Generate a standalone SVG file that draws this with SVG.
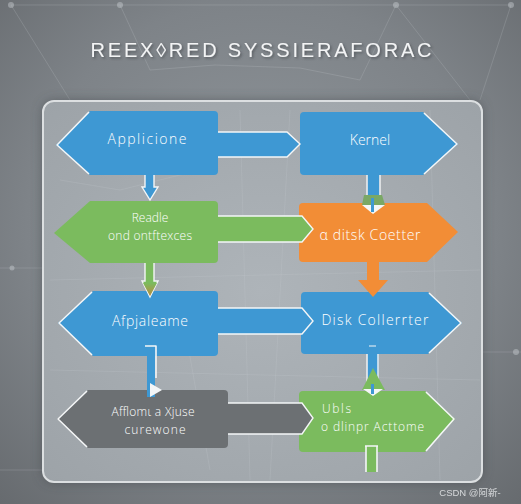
<svg xmlns="http://www.w3.org/2000/svg" width="521" height="504" viewBox="0 0 521 504">
<defs>
<radialGradient id="bg" cx="0.5" cy="0.45" r="0.75">
<stop offset="0" stop-color="#90969b"/>
<stop offset="0.6" stop-color="#7e8388"/>
<stop offset="1" stop-color="#666a6e"/>
</radialGradient>
<radialGradient id="pn" cx="0.5" cy="0.5" r="0.7">
<stop offset="0" stop-color="#aeb4b9"/>
<stop offset="1" stop-color="#9da3a8"/>
</radialGradient>
<filter id="sh" x="-10%" y="-10%" width="120%" height="120%">
<feGaussianBlur stdDeviation="6"/>
</filter>
<filter id="tsh" x="-5%" y="-30%" width="110%" height="160%">
<feDropShadow dx="1.5" dy="1.5" stdDeviation="0.8" flood-color="#3c4044" flood-opacity="0.6"/>
</filter>
<linearGradient id="gtip" x1="0" y1="0" x2="0" y2="1">
<stop offset="0" stop-color="#7bbb5e"/>
<stop offset="1" stop-color="#b98a3e"/>
</linearGradient>
</defs>
<style>
.t{font-family:"Open Sans","Liberation Sans",sans-serif;font-weight:300;fill:#ffffff;font-size:14px}
.t2{font-family:"Open Sans","Liberation Sans",sans-serif;font-weight:300;fill:#ffffff;font-size:12px}
.ol{fill:none;stroke:#f4f6f7;stroke-width:1.6;stroke-linejoin:round}
.blue{fill:#3e98d3}
.green{fill:#7bbb5e}
.orange{fill:#f28d36}
.gray{fill:#6c7073}
.cb{stroke:#f4f6f7;stroke-width:1.4;stroke-linejoin:miter}
.deco{stroke:#c9ced2;stroke-width:0.8;fill:none;opacity:0.25}
</style>
<rect width="521" height="504" fill="url(#bg)"/>
<g class="deco">
<path d="M11,5 L120,5 L396,5 L511,5"/>
<path d="M11,5 L70,100 M120,5 L150,70 L215,65 L300,68 L360,80 L396,5 M396,5 L470,100 M511,5 L480,100"/>
<path d="M0,268 L43,268 M482,352 L521,352 M0,470 L43,470"/>
</g>
<g fill="#c9ced2" opacity="0.45">
<circle cx="11" cy="5" r="3"/><circle cx="120" cy="5" r="3"/><circle cx="396" cy="5" r="3"/><circle cx="511" cy="5" r="3"/>
<circle cx="12" cy="268" r="2.5"/><circle cx="516" cy="352" r="3"/>
</g>
<text x="261" y="57" text-anchor="middle" font-family="Liberation Sans, sans-serif" font-size="20" fill="#f3f4f5" filter="url(#tsh)" textLength="341" lengthAdjust="spacing">REEX◊RED  SYSSIERAFORAC</text>
<rect x="43" y="101" width="439" height="381" rx="11" fill="#3b3f43" opacity="0.55" filter="url(#sh)"/>
<rect id="panel" x="43" y="101" width="439" height="381" rx="11" fill="url(#pn)" stroke="#dcdfe1" stroke-width="2"/>
<g class="deco" opacity="0.3">
<path d="M60,180 L120,190 L200,170 M240,110 L250,480 M430,110 L440,480 M50,280 L480,270 M50,370 L480,380 M290,110 L270,480 M180,300 L210,470"/>
</g>
<g id="nodes">
<g id="n-app">
<path class="blue" d="M90,111 H214 Q218,111 218,115 V171 Q218,175 214,175 H90 L56,145 Z"/>
<path class="ol" d="M89,112 L57,145 L89,174"/>
<text class="t" x="147" y="144" text-anchor="middle" textLength="79" lengthAdjust="spacing">Applicione</text>
</g>
<g id="n-kernel">
<path class="blue" d="M304,112 H423 L458,144 L423,175 H304 Q300,175 300,171 V116 Q300,112 304,112 Z"/>
<path class="ol" d="M424,113 L457,144 L424,174"/>
<text class="t" x="370" y="145" text-anchor="middle">Kernel</text>
</g>
<g id="n-readle">
<path class="green" d="M90,201 H214 Q218,201 218,205 V259 Q218,263 214,263 H90 L54,233 Z"/>
<text class="t2" x="150" y="222" text-anchor="middle">Readle</text>
<text class="t2" x="150" y="240" text-anchor="middle" textLength="84" lengthAdjust="spacing">ond ontftexces</text>
</g>
<g id="n-disk1">
<path class="orange" d="M303,203 H427 L458,232 L427,262 H303 Q299,262 299,258 V207 Q299,203 303,203 Z"/>
<text class="t" x="370" y="240" text-anchor="middle" textLength="101" lengthAdjust="spacing">α ditsk Coetter</text>
</g>
<g id="n-afpj">
<path class="blue" d="M93,291 H214 Q218,291 218,295 V352 Q218,356 214,356 H93 L58,323 Z"/>
<path class="ol" d="M92,292 L59,323 L92,355"/>
<text class="t" x="150" y="326" text-anchor="middle" textLength="76" lengthAdjust="spacing">Afpjaleame</text>
</g>
<g id="n-disk2">
<path class="blue" d="M305,292 H428 L462,323 L428,354 H305 Q301,354 301,350 V296 Q301,292 305,292 Z"/>
<path class="ol" d="M429,293 L461,323 L429,353"/>
<text class="t" x="375" y="325" text-anchor="middle" font-size="15" textLength="107" lengthAdjust="spacing">Disk Collerrter</text>
</g>
<g id="n-gray">
<path class="gray" d="M88,390 H224 Q228,390 228,394 V444 Q228,448 224,448 H88 L57,419 Z"/>
<path class="ol" d="M87,391 L58,419 L87,447"/>
<text class="t2" x="153" y="416" text-anchor="middle" textLength="83" lengthAdjust="spacing">Afflomι a Xjuse</text>
<text class="t2" x="155" y="434" text-anchor="middle" textLength="61" lengthAdjust="spacing">curewone</text>
</g>
<g id="n-ubls">
<path class="green" d="M303,391 H425 L455,419 L425,452 H303 Q299,452 299,448 V395 Q299,391 303,391 Z"/>
<path class="ol" d="M426,392 L454,419 L426,451"/>
<text class="t2" x="322" y="413" textLength="29" lengthAdjust="spacing">Ubls</text>
<text class="t2" x="321" y="431" textLength="103" lengthAdjust="spacing">o dlinpr Acttome</text>
</g>
</g>
<g id="connectors">
<path class="blue cb" d="M218,132 H287 L300,144 L287,157 H218"/>
<path class="green cb" d="M218,216 H302 L313,229 L302,242 H218"/>
<path class="blue cb" d="M218,308 H302 L313,321 L302,334 H218"/>
<path class="gray cb" d="M228,403 H302 L313,418 L302,434 H228"/>
<path class="blue cb" d="M145,175 V187 H142 L150,200 L158,187 H154 V175"/>
<path class="green cb" d="M145,263 V281 H142 L150,297 L158,281 H154 V263"/>
<path d="M143,283 L150,296 L157,283 Z" fill="url(#gtip)"/>
<rect x="367.5" y="175" width="12" height="27" class="blue"/>
<path d="M367,175 V200 M380,175 V200" stroke="#f4f6f7" stroke-width="1.4"/>
<path d="M364,195 L382,195 L385,205 L362,205 Z" fill="#7aa865"/>
<path d="M362,205 L373,214 L385,205 Z" fill="#f4f6f7"/>
<rect x="371" y="198" width="3" height="14" fill="#3e98d3"/>
<path class="orange" d="M367,262 V280 H358 L373,297 L388,280 H379 V262 Z"/>
<rect x="367.5" y="354" width="11" height="36" class="blue"/>
<path d="M367,354 V388 M378,354 V388" stroke="#f4f6f7" stroke-width="1.4"/>
<path d="M373,368 L362,390 L385,390 Z" fill="#7bbb5e"/>
<path d="M363,389 L373,396 L383,389 Z" fill="#f4f6f7"/>
<rect x="371" y="384" width="3" height="10" fill="#3e98d3"/>
<path d="M369,346 H376" stroke="#f4f6f7" stroke-width="1"/>
<rect x="147" y="346" width="8" height="51" class="blue"/>
<path d="M145,346 H156 V378" class="ol"/>
<path d="M150,383 L162,390 L150,397 Z" fill="#f4f6f7"/>
<rect x="366" y="445" width="11" height="27" class="green"/>
<path d="M366,446 V472 M377,446 V472 M365,446 H378" stroke="#f4f6f7" stroke-width="1.6"/>
</g>
<text x="470" y="496" text-anchor="middle" font-family="Liberation Sans, 'Noto Sans CJK SC', sans-serif" font-size="9.5" fill="#e6e8ea" opacity="0.85">CSDN @阿新-</text>
</svg>
